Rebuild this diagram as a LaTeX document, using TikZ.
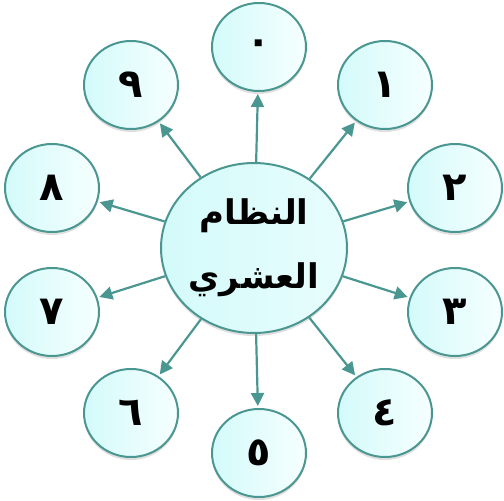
\documentclass[tikz,border=0pt]{standalone}
\usepackage{fontspec}
\newfontfamily\arabicfont[Script=Arabic]{DejaVu Sans}
\TeXXeTstate=1
\usetikzlibrary{shapes.geometric,arrows.meta,shadows}
\definecolor{teal1}{RGB}{74,150,144}
\definecolor{cyanA}{RGB}{212,250,250}
\definecolor{cyanB}{RGB}{246,255,255}
\tikzset{
  bubble/.style={ellipse, draw=teal1, line width=2pt, left color=cyanA, right color=cyanB,
     minimum width=94pt, minimum height=88pt, inner sep=0pt,
     drop shadow={opacity=0.25, shadow xshift=0pt, shadow yshift=-3pt},
     font=\arabicfont\bfseries\fontsize{40}{44}\selectfont},
  hub/.style={ellipse, draw=teal1, line width=2pt, left color=cyanA, right color=cyanB!60!cyanA,
     minimum width=186pt, minimum height=170pt, inner sep=-24pt, align=center,
     drop shadow={opacity=0.25, shadow xshift=0pt, shadow yshift=-3pt},
     font=\arabicfont\bfseries\fontsize{34}{64}\selectfont},
  arr/.style={draw=teal1, line width=2.2pt, -{Triangle[length=13pt,width=13pt]}, shorten >=2pt}
}
\begin{document}
\begin{tikzpicture}[x=1pt,y=-1pt]
\useasboundingbox (0,0) rectangle (504,501);
\node[hub] (c) at (254,248) {\beginR النظام\endR\\\beginR العشري\endR};
\node[bubble] (n0) at (259,47) {\beginR ٠\endR};
\node[bubble] (n1) at (385,85) {\beginR ١\endR};
\node[bubble] (n2) at (455,188) {\beginR ٢\endR};
\node[bubble] (n3) at (455,312) {\beginR ٣\endR};
\node[bubble] (n4) at (385,413) {\beginR ٤\endR};
\node[bubble] (n5) at (259,453) {\beginR ٥\endR};
\node[bubble] (n6) at (131,413) {\beginR ٦\endR};
\node[bubble] (n7) at (52,312) {\beginR ٧\endR};
\node[bubble] (n8) at (52,188) {\beginR ٨\endR};
\node[bubble] (n9) at (131,85) {\beginR ٩\endR};
\foreach \i in {0,...,9} { \draw[arr] (c) -- (n\i); }
\end{tikzpicture}
\end{document}
